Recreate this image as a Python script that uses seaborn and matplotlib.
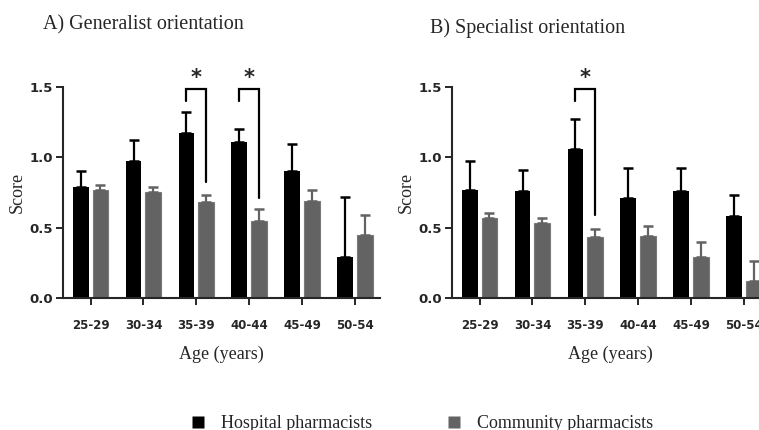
"""
Generalist vs specialist orientation scores by age group,
hospital vs community pharmacists (mean + SEM, upper error only).
"""
import numpy as np
import pandas as pd
import matplotlib
matplotlib.use("Agg")
import matplotlib.pyplot as plt
from matplotlib.lines import Line2D
import seaborn as sns

AGE_GROUPS = ["25-29", "30-34", "35-39", "40-44", "45-49", "50-54"]
GROUPS = ["Hospital pharmacists", "Community pharmacists"]

# A) generalist orientation
GEN_HOSP = [0.79, 0.97, 1.17, 1.11, 0.90, 0.29]
GEN_HOSP_SEM = [0.11, 0.15, 0.15, 0.09, 0.19, 0.43]
GEN_COMM = [0.77, 0.75, 0.68, 0.55, 0.69, 0.45]
GEN_COMM_SEM = [0.03, 0.04, 0.05, 0.08, 0.08, 0.14]

# B) specialist orientation
SPEC_HOSP = [0.77, 0.76, 1.06, 0.71, 0.76, 0.58]
SPEC_HOSP_SEM = [0.20, 0.15, 0.21, 0.21, 0.16, 0.15]
SPEC_COMM = [0.57, 0.53, 0.43, 0.44, 0.29, 0.12]
SPEC_COMM_SEM = [0.03, 0.04, 0.06, 0.07, 0.11, 0.14]

# significance brackets: (age group index, lower end of the right leg)
GEN_SIG = [(2, 0.82), (3, 0.71)]
SPEC_SIG = [(2, 0.59)]

COLORS = {"Hospital pharmacists": "#000000", "Community pharmacists": "#636363"}
SERIF = "Liberation Serif"

sns.set_style("ticks")
plt.rcParams["font.family"] = ["DejaVu Sans"]


def build_frame(hosp, hosp_sem, comm, comm_sem):
    rows = []
    for i, age in enumerate(AGE_GROUPS):
        rows.append({"Age": age, "Group": GROUPS[0], "Score": hosp[i], "SEM": hosp_sem[i]})
        rows.append({"Age": age, "Group": GROUPS[1], "Score": comm[i], "SEM": comm_sem[i]})
    return pd.DataFrame(rows)


def draw_panel(ax, df, sig, title, title_x, title_y, fig):
    sns.barplot(data=df, x="Age", y="Score", hue="Group", hue_order=GROUPS,
                order=AGE_GROUPS, palette=COLORS, errorbar=None,
                width=0.75, gap=0.2, legend=False, ax=ax, saturation=1)
    for cont, grp in zip(ax.containers, GROUPS):
        sems = df[df["Group"] == grp].set_index("Age").loc[AGE_GROUPS, "SEM"].values
        xs = np.array([b.get_x() + b.get_width() / 2 for b in cont])
        tops = np.array([b.get_height() for b in cont])
        for b in cont:
            b.set_edgecolor("none" if grp == GROUPS[0] else "#7a7a7a")
            b.set_linewidth(0.8)
        ax.errorbar(xs, tops, yerr=[np.zeros_like(sems), sems], fmt="none",
                    ecolor=COLORS[grp], elinewidth=1.6, capsize=3.3, capthick=1.8,
                    zorder=1)

    # significance brackets
    hosp_x = [b.get_x() + b.get_width() / 2 for b in ax.containers[0]]
    comm_x = [b.get_x() + b.get_width() / 2 for b in ax.containers[1]]
    for idx, low in sig:
        x0, x1 = hosp_x[idx], comm_x[idx]
        ax.plot([x0, x0, x1, x1], [1.40, 1.485, 1.485, low], color="black",
                lw=1.6, clip_on=False, solid_joinstyle="miter")
        ax.text((x0 + x1) / 2, 1.49, "*", ha="center", va="bottom",
                fontsize=15, fontweight="bold", clip_on=False)

    ax.set_ylim(0, 1.5)
    ax.set_xlim(-0.52, 5.47)
    ax.set_yticks([0, 0.5, 1.0, 1.5])
    ax.set_yticklabels(["0.0", "0.5", "1.0", "1.5"], fontweight="bold", fontsize=9.5)
    ax.set_xticks(range(len(AGE_GROUPS)))
    ax.set_xticklabels(AGE_GROUPS, fontweight="bold", fontsize=8.5)
    ax.tick_params(axis="both", length=5, width=1.4, pad=2)
    ax.tick_params(axis="x", pad=10)
    for s in ["left", "bottom"]:
        ax.spines[s].set_linewidth(1.5)
    sns.despine(ax=ax)
    ax.set_xlabel("Age (years)", family=SERIF, fontsize=13, labelpad=10)
    ax.set_ylabel("Score", family=SERIF, fontsize=13, labelpad=3)
    fig.text(title_x, title_y, title, family=SERIF, fontsize=14.5, va="baseline")


def main():
    fig = plt.figure(figsize=(7.59, 4.30), dpi=100)
    W, H = 759, 430
    ax1 = fig.add_axes([63 / W, (H - 298) / H, 317 / W, 211.3 / H])
    ax2 = fig.add_axes([452 / W, (H - 298) / H, 317 / W, 211.3 / H])

    draw_panel(ax1, build_frame(GEN_HOSP, GEN_HOSP_SEM, GEN_COMM, GEN_COMM_SEM),
               GEN_SIG, "A) Generalist orientation", 43 / W, 1 - 29 / H, fig)
    draw_panel(ax2, build_frame(SPEC_HOSP, SPEC_HOSP_SEM, SPEC_COMM, SPEC_COMM_SEM),
               SPEC_SIG, "B) Specialist orientation", 430 / W, 1 - 33 / H, fig)

    handles = [Line2D([], [], marker="s", linestyle="none", markersize=9,
                      markerfacecolor=COLORS[g], markeredgecolor="none") for g in GROUPS]
    fig.legend(handles, GROUPS, loc="center", bbox_to_anchor=(421 / W, 1 - 424 / H),
               ncol=2, frameon=False, prop={"family": SERIF, "size": 13},
               handlelength=1.0, handletextpad=0.8, columnspacing=4.0,
               borderpad=0, borderaxespad=0)

    fig.savefig("out.png", dpi=100)
    plt.close(fig)


if __name__ == "__main__":
    main()
